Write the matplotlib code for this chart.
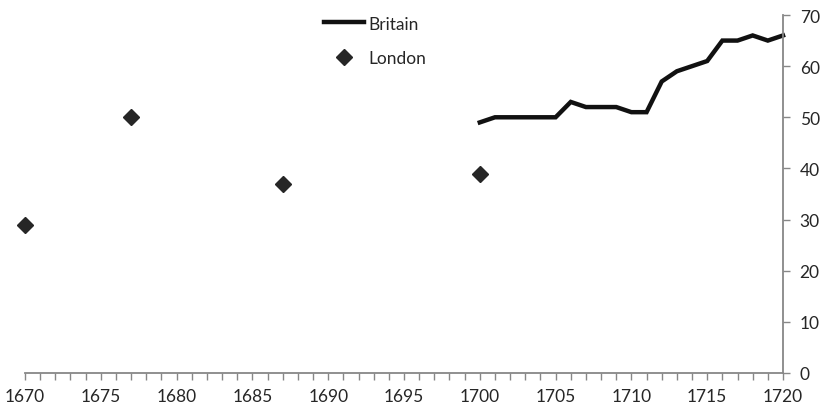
import numpy as np
import matplotlib.pyplot as plt
from matplotlib.ticker import MultipleLocator

plt.rcParams['font.family'] = ['Lato', 'DejaVu Sans']

britain_years = list(range(1700, 1721))
britain = [49, 50, 50, 50, 50, 50, 53, 52, 52, 52, 51, 51, 57, 59, 60, 61, 65, 65, 66, 65, 66]
london_years = [1670, 1677, 1687, 1700]
london = [29, 50, 37, 39]

fig = plt.figure(figsize=(8.24, 4.10), dpi=100)
ax = fig.add_axes([25/824, (410-374)/410, (783-25)/824, (374-16)/410])

ax.plot(britain_years, britain, color='#111111', linewidth=3.2, solid_joinstyle='miter',
        label='Britain', clip_on=False)
ax.plot(london_years, london, linestyle='none', marker='D', markersize=8,
        color='#262626', label='London', clip_on=False)

ax.set_xlim(1670, 1720)
ax.set_ylim(0, 70)

axis_col = '#878787'
for s in ['top', 'left']:
    ax.spines[s].set_visible(False)
for s in ['bottom', 'right']:
    ax.spines[s].set_color(axis_col)
    ax.spines[s].set_linewidth(1.3)

ax.yaxis.tick_right()
ax.xaxis.set_major_locator(MultipleLocator(5))
ax.xaxis.set_minor_locator(MultipleLocator(1))
ax.yaxis.set_major_locator(MultipleLocator(10))
ax.tick_params(axis='x', which='both', direction='out', length=5, width=1, color=axis_col,
               labelsize=12.5, labelcolor='#262626', pad=6)
ax.tick_params(axis='y', which='major', direction='out', length=5, width=1, color=axis_col,
               labelsize=12.5, labelcolor='#262626', pad=7)
ax.set_xticklabels([str(int(v)) for v in ax.get_xticks()])

ax.legend(loc='upper left', bbox_to_anchor=(0.385, 1.018), frameon=False, fontsize=12.5,
          handlelength=2.3, handletextpad=0.25, labelspacing=1.08, labelcolor='#262626',
          borderaxespad=0)

fig.savefig('out.png', dpi=100)
